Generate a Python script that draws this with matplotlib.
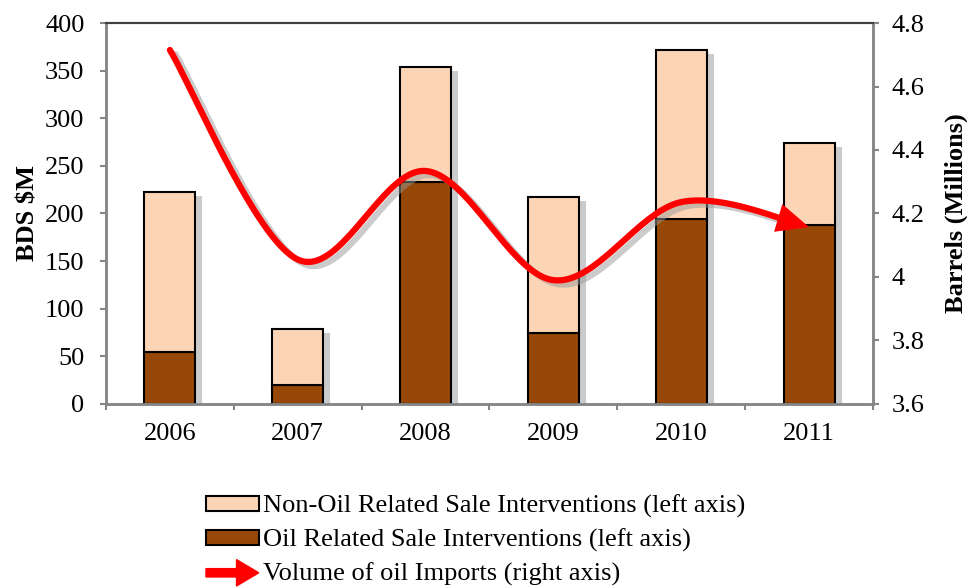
import numpy as np
import matplotlib
matplotlib.use('Agg')
import matplotlib.pyplot as plt
import matplotlib.patheffects as pe
from matplotlib.patches import Patch, FancyArrow
from matplotlib.legend_handler import HandlerPatch

plt.rcParams['font.family'] = ['Liberation Serif', 'DejaVu Serif']

years = ['2006', '2007', '2008', '2009', '2010', '2011']
oil_sales = [55, 20, 233, 74, 194, 188]
non_oil_sales = [168, 59, 121, 143, 178, 86]
oil_imports = [4.715, 4.055, 4.334, 3.99, 4.236, 4.157]

c_light = '#fbd5b5'
c_dark = '#974806'
grey = '#868686'
fs = 19


def smooth_curve(x, y, n=40):
    # cubic bezier through every point, control points from neighbours (Excel style)
    x = np.asarray(x, float)
    y = np.asarray(y, float)
    px, py = [], []
    for i in range(len(x)-1):
        i0 = max(i-1, 0)
        i3 = min(i+2, len(x)-1)
        p0 = np.array([x[i], y[i]])
        p3 = np.array([x[i+1], y[i+1]])
        p1 = p0 + (np.array([x[i+1], y[i+1]]) - np.array([x[i0], y[i0]]))/6
        p2 = p3 - (np.array([x[i3], y[i3]]) - np.array([x[i], y[i]]))/6
        t = np.linspace(0, 1, n)[:, None]
        seg = (1-t)**3*p0 + 3*(1-t)**2*t*p1 + 3*(1-t)*t**2*p2 + t**3*p3
        px.extend(seg[:, 0])
        py.extend(seg[:, 1])
    return np.array(px), np.array(py)


class ArrowHandler(HandlerPatch):
    def create_artists(self, legend, orig_handle, xdescent, ydescent,
                       width, height, fontsize, trans):
        arr = FancyArrow(0, height/2, width, 0, width=6,
                         head_width=19, head_length=16,
                         length_includes_head=True, color='red', transform=trans)
        return [arr]


fig = plt.figure(figsize=(9.67, 5.87), dpi=100)
ax = fig.add_axes([0.1096, 0.3118, 0.7932, 0.649])
ax2 = ax.twinx()

x = np.arange(len(years))
totals = np.array(oil_sales) + np.array(non_oil_sales)

# white stack underneath only to cast the drop shadow
shadow = [pe.SimplePatchShadow(offset=(5, -3), shadow_rgbFace='#999999', alpha=0.5), pe.Normal()]
sh = ax.bar(x, totals, width=0.4, color='white', linewidth=0, zorder=1)
for bar in sh:
    bar.set_path_effects(shadow)
ax.bar(x, oil_sales, width=0.4, color=c_dark, edgecolor='black', linewidth=1.5, zorder=2)
ax.bar(x, non_oil_sales, bottom=oil_sales, width=0.4, color=c_light,
       edgecolor='black', linewidth=1.5, zorder=2)

ax.set_xlim(-0.5, len(years)-0.5)
ax.set_ylim(0, 400)
ax.set_yticks(range(0, 401, 50))
ax.set_xticks(x)
ax.set_xticklabels(years)
ax.set_xticks(np.arange(-0.5, len(years)), minor=True)
ax.tick_params(axis='x', which='major', length=0, pad=14, labelsize=fs)
ax.tick_params(axis='x', which='minor', length=4.5, color=grey, width=1.5)
ax.tick_params(axis='y', length=4.5, color=grey, width=1.5, labelsize=fs, pad=11)
ax.set_ylabel('BDS $M', fontsize=fs, fontweight='bold', labelpad=4)

ax2.set_ylim(3.6, 4.8)
ax2.set_yticks([3.6, 3.8, 4.0, 4.2, 4.4, 4.6, 4.8])
ax2.set_yticklabels(['3.6', '3.8', '4', '4.2', '4.4', '4.6', '4.8'])
ax2.tick_params(axis='y', length=4.5, color=grey, width=1.5, labelsize=fs, pad=9,
                labelfontfamily='Liberation Serif')
ax2.set_ylabel('Barrels (Millions)', fontsize=fs, fontweight='bold', labelpad=14)

for a in (ax, ax2):
    for side in ('left', 'right', 'bottom'):
        a.spines[side].set_color(grey)
        a.spines[side].set_linewidth(1.8)
    a.spines['top'].set_color('#404040')
    a.spines['top'].set_linewidth(1.5)

# smoothed import volume line with arrow head on the last point
sx, sy = smooth_curve(x, oil_imports)
line_fx = [pe.SimpleLineShadow(offset=(4, -3), shadow_color='#999999', alpha=0.5), pe.Normal()]
ax2.plot(sx[:-8], sy[:-8], color='red', lw=4.5, solid_capstyle='round', zorder=3, path_effects=line_fx)
ax2.annotate('', xy=(sx[-1], sy[-1]), xytext=(sx[-10], sy[-10]),
             arrowprops=dict(arrowstyle='-|>,head_length=0.58,head_width=0.26',
                             color='red', lw=0, mutation_scale=40,
                             shrinkA=0, shrinkB=0), zorder=4)

handles = [Patch(facecolor=c_light, edgecolor='black', linewidth=1.5),
           Patch(facecolor=c_dark, edgecolor='black', linewidth=1.5),
           FancyArrow(0, 0, 1, 0)]
labels = ['Non-Oil Related Sale Interventions (left axis)',
          'Oil Related Sale Interventions (left axis)',
          'Volume of oil Imports (right axis)']
fig.legend(handles, labels, loc='upper left', bbox_to_anchor=(0.213, 0.157),
           frameon=False, fontsize=fs, handlelength=2.0, handleheight=0.55,
           handletextpad=0.15, labelspacing=0.4, borderaxespad=0, borderpad=0,
           handler_map={FancyArrow: ArrowHandler()})

fig.savefig('out.png', dpi=100)
